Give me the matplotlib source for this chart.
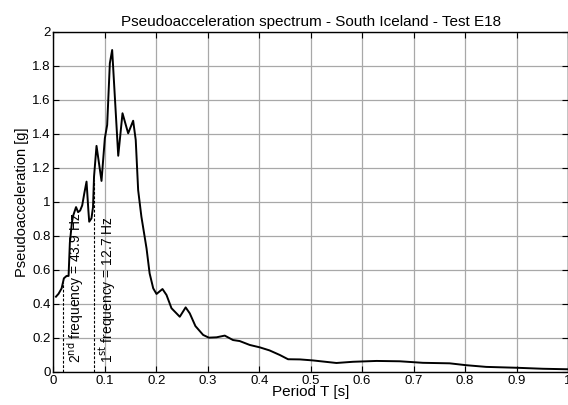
import matplotlib
matplotlib.use("Agg")
import matplotlib.pyplot as plt
import numpy as np

plt.rcParams['font.family'] = ['Liberation Sans', 'DejaVu Sans']

period = [0.005, 0.010, 0.016, 0.0204, 0.0256, 0.0295, 0.032, 0.036, 0.0385, 0.044,
          0.048, 0.052, 0.056, 0.060, 0.0644, 0.068, 0.0696, 0.074, 0.077, 0.079,
          0.0838, 0.0935, 0.100, 0.1045, 0.1097, 0.1142, 0.126, 0.1343, 0.1453, 0.155,
          0.160, 0.1647, 0.171, 0.181, 0.187, 0.194, 0.2004, 0.212, 0.2198, 0.2295,
          0.2456, 0.257, 0.265, 0.276, 0.291, 0.302, 0.317, 0.333, 0.349, 0.362,
          0.3816, 0.401, 0.420, 0.440, 0.456, 0.479, 0.5045, 0.550, 0.582, 0.628,
          0.673, 0.718, 0.770, 0.802, 0.841, 0.899, 0.951, 1.000]
psa = [0.443, 0.46, 0.492, 0.551, 0.565, 0.565, 0.76, 0.88, 0.92, 0.97,
       0.94, 0.95, 0.98, 1.05, 1.12, 0.95, 0.884, 0.904, 0.97, 1.15,
       1.33, 1.124, 1.375, 1.453, 1.816, 1.894, 1.272, 1.522, 1.404, 1.478,
       1.365, 1.07, 0.914, 0.727, 0.58, 0.492, 0.459, 0.488, 0.453, 0.375,
       0.325, 0.38, 0.345, 0.27, 0.218, 0.202, 0.204, 0.214, 0.188, 0.182,
       0.159, 0.145, 0.127, 0.10, 0.075, 0.074, 0.068, 0.053, 0.060, 0.065,
       0.063, 0.054, 0.051, 0.040, 0.030, 0.025, 0.019, 0.016]

freq_periods = [0.019, 1 / 12.7]
freq_labels = ['2$^{\\rm nd}$ frequency = 43.9 Hz', '1$^{\\rm st}$ frequency = 12.7 Hz']
label_x = [0.043, 0.106]

xticks = [0, 0.1, 0.2, 0.3, 0.4, 0.5, 0.6, 0.7, 0.8, 0.9, 1]
xticklabels = ['0', '0.1', '0.2', '0.3', '0.4', '0.5', '0.6', '0.7', '0.8', '0.9', '1']
yticks = [0, 0.2, 0.4, 0.6, 0.8, 1, 1.2, 1.4, 1.6, 1.8, 2]
yticklabels = ['0', '0.2', '0.4', '0.6', '0.8', '1', '1.2', '1.4', '1.6', '1.8', '2']

fig = plt.figure(figsize=(5.68, 4.05), dpi=100)
ax = fig.add_axes([0.094, 0.0815, 0.906, 0.8395])

ax.plot(period, psa, color='black', lw=1.4, zorder=3)

for p in freq_periods:
    top = np.interp(p, period, psa)
    ax.plot([p, p], [0, top], color='black', lw=0.8, ls=(0, (2.5, 1.5)), zorder=2)

for xl, lab in zip(label_x, freq_labels):
    ax.text(xl, 0.053, lab, rotation=90, ha='center', va='bottom', fontsize=10)

ax.set_xlim(0, 1)
ax.set_ylim(0, 2)
ax.set_xticks(xticks)
ax.set_xticklabels(xticklabels)
ax.set_yticks(yticks)
ax.set_yticklabels(yticklabels)
ax.grid(True, color='#a8a8a8', lw=0.9)
ax.set_axisbelow(True)
ax.tick_params(direction='in', top=True, right=True, labelsize=9.5, length=4, width=0.8, pad=2)
for s in ax.spines.values():
    s.set_linewidth(1.0)

ax.set_title('Pseudoacceleration spectrum - South Iceland - Test E18', fontsize=11, pad=4)
ax.set_xlabel('Period T [s]', fontsize=11, labelpad=-1)
ax.set_ylabel('Pseudoacceleration [g]', fontsize=10.5, labelpad=2)

fig.savefig('out.png', dpi=100)
